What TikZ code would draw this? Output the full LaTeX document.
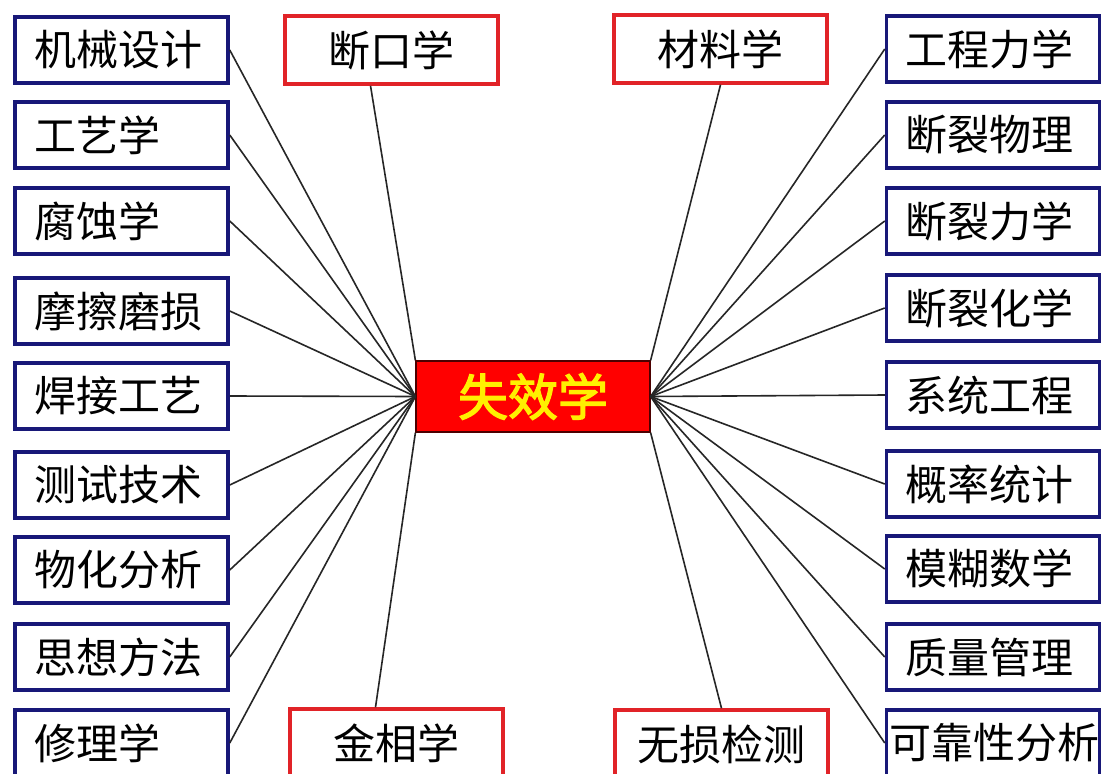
\documentclass[tikz,border=0pt]{standalone}
\usepackage{fontspec}
\newfontfamily\cjk[AutoFakeBold=2.5]{Noto Sans CJK SC}
\usepackage{tikz}
\usetikzlibrary{calc}

\definecolor{boxblue}{RGB}{24,24,120}
\definecolor{boxred}{RGB}{225,35,40}
\definecolor{hubred}{RGB}{255,0,0}
\definecolor{hubyellow}{RGB}{255,240,0}

\begin{document}
\begin{tikzpicture}[x=1pt,y=-1pt,
  bluebox/.style={draw=boxblue,line width=3.5pt,fill=white,text width=175pt,
    align=left,inner xsep=19pt,inner ysep=0pt,minimum height=66pt,
    font=\cjk\fontsize{42}{48}\selectfont},
  redbox/.style={draw=boxred,line width=3.5pt,fill=white,minimum width=213pt,
    minimum height=68pt,inner sep=0pt,font=\cjk\fontsize{42}{48}\selectfont},
  hubbox/.style={draw=black!70!red,line width=1.2pt,fill=hubred,text=hubyellow,
    minimum width=234pt,minimum height=71pt,inner sep=0pt,
    font=\cjk\bfseries\fontsize{50}{56}\selectfont},
  link/.style={black!85,line width=1.6pt}]

\fill[white] (0,0) rectangle (1115,773);
\useasboundingbox (0,0) rectangle (1115,773);

\node[hubbox] (sxx) at (533,396.5) {失效学};

% left column
\node[bluebox] (jxsj) at (121.5,50) {机械设计};
\node[bluebox] (gyx) at (121.5,135) {工艺学};
\node[bluebox] (fsx) at (121.5,221) {腐蚀学};
\node[bluebox] (mcms) at (121.5,311) {摩擦磨损};
\node[bluebox] (hjgy) at (121.5,396) {焊接工艺};
\node[bluebox] (csjs) at (121.5,485) {测试技术};
\node[bluebox] (whfx) at (121.5,570) {物化分析};
\node[bluebox] (sxff) at (121.5,657) {思想方法};
\node[bluebox] (xlx) at (121.5,743) {修理学};

% right column
\node[bluebox] (gclx) at (993,49) {工程力学};
\node[bluebox] (dlwl) at (993,135) {断裂物理};
\node[bluebox] (dllx) at (993,221) {断裂力学};
\node[bluebox] (dlhx) at (993,308) {断裂化学};
\node[bluebox] (xtgc) at (993,395) {系统工程};
\node[bluebox] (gltj) at (993,484) {概率统计};
\node[bluebox] (mhsx) at (993,569) {模糊数学};
\node[bluebox] (zlgl) at (993,657) {质量管理};
\node[bluebox,text width=207pt,inner xsep=3pt] (kkx) at (993,743) {可靠性分析};

% top and bottom
\node[redbox] (dkx) at (391.5,50) {断口学};
\node[redbox] (clx) at (720.5,49) {材料学};
\node[redbox] (jxx) at (396.5,743) {金相学};
\node[redbox] (wsjc) at (721.5,744) {无损检测};

\draw[link] (jxsj.east) -- (sxx.west);
\draw[link] (gyx.east) -- (sxx.west);
\draw[link] (fsx.east) -- (sxx.west);
\draw[link] (mcms.east) -- (sxx.west);
\draw[link] (hjgy.east) -- (sxx.west);
\draw[link] (csjs.east) -- (sxx.west);
\draw[link] (whfx.east) -- (sxx.west);
\draw[link] (sxff.east) -- (sxx.west);
\draw[link] (xlx.east) -- (sxx.west);

\draw[link] (gclx.west) -- (sxx.east);
\draw[link] (dlwl.west) -- (sxx.east);
\draw[link] (dllx.west) -- (sxx.east);
\draw[link] (dlhx.west) -- (sxx.east);
\draw[link] (xtgc.west) -- (sxx.east);
\draw[link] (gltj.west) -- (sxx.east);
\draw[link] (mhsx.west) -- (sxx.east);
\draw[link] (zlgl.west) -- (sxx.east);
\draw[link] (kkx.west) -- (sxx.east);

\draw[link] ($(dkx.south)+(-21,0)$) -- (sxx.north west);
\draw[link] (clx.south) -- (sxx.north east);
\draw[link] ($(jxx.north)+(-21,0)$) -- (sxx.south west);
\draw[link] (wsjc.north) -- (sxx.south east);

\end{tikzpicture}
\end{document}
